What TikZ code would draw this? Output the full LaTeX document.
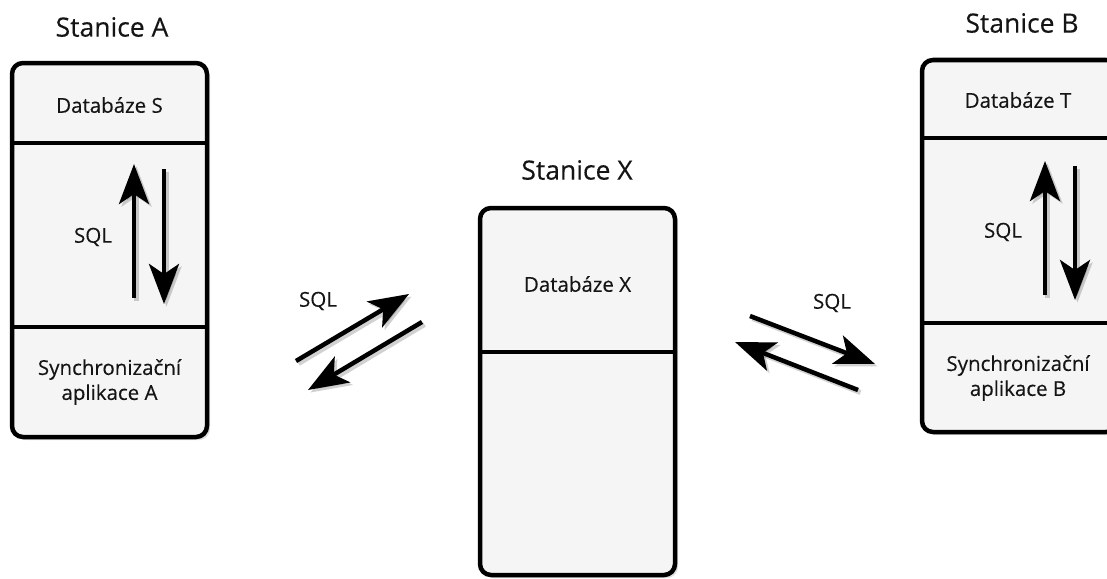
\documentclass[tikz,border=0pt]{standalone}
\usepackage{fontspec}
\setmainfont{Open Sans}[FakeBold=0.3]
\usetikzlibrary{arrows.meta,shadows,calc}
\definecolor{boxfill}{HTML}{F5F5F5}
\definecolor{headgray}{HTML}{3A3A3A}
\definecolor{txt}{HTML}{151515}
\tikzset{
  station/.style={draw=black, line width=4.5pt, fill=boxfill, rounded corners=11pt,
    drop shadow={shadow xshift=3pt, shadow yshift=-3pt, opacity=0.25}},
  divider/.style={line width=4.5pt, draw=black},
  title/.style={font=\fontsize{26.5}{31}\selectfont, text=txt},
  label/.style={font=\fontsize{20.5}{25}\selectfont, text=txt, align=center},
  tip/.style={-{Stealth[length=40pt,width=30pt,inset=10pt]}},
  sqlarrow/.style={line width=4.5pt, tip},
  darkhead/.style={sqlarrow, draw=black, fill=headgray},
  blackhead/.style={sqlarrow, draw=black, fill=black},
  ashadow/.style={line width=5pt, draw=black, opacity=0.18, tip, transform canvas={xshift=2.5pt,yshift=-2.5pt}}
}
\begin{document}
\begin{tikzpicture}[x=1pt,y=-1pt]
\useasboundingbox (0,0) rectangle (1107,578);

% Station A
\node[title] (tA) at (112,27) {Stanice A};
\node[station, minimum width=195pt, minimum height=374pt] (boxA) at (109.5,250) {};
\coordinate (a1) at (12,143); \coordinate (a2) at (207,143);
\coordinate (a3) at (12,327); \coordinate (a4) at (207,327);
\draw[divider] (a1) -- (a2);
\draw[divider] (a3) -- (a4);
\node[label] (dbS) at (109.5,105) {Databáze S};
\node[label] (sqlA) at (93,237) {SQL};
\node[label] (syncA) at (109.5,382) {Synchronizační\\aplikace A};
\coordinate (au1) at (134,298); \coordinate (au2) at (134,164);
\coordinate (ad1) at (164,169); \coordinate (ad2) at (164,304);
\draw[ashadow] (au1) -- (au2);
\draw[ashadow] (ad1) -- (ad2);
\draw[darkhead] (au1) -- (au2);
\draw[blackhead] (ad1) -- (ad2);

% Station X
\node[title] (tX) at (577,170) {Stanice X};
\node[station, minimum width=195pt, minimum height=367pt] (boxX) at (577.5,391.5) {};
\coordinate (x1) at (480,352); \coordinate (x2) at (675,352);
\draw[divider] (x1) -- (x2);
\node[label] (dbX) at (577.5,284) {Databáze X};

% Station B
\node[title] (tB) at (1022,23) {Stanice B};
\node[station, minimum width=195pt, minimum height=372pt] (boxB) at (1019.5,246) {};
\coordinate (b1) at (922,138); \coordinate (b2) at (1117,138);
\coordinate (b3) at (922,323); \coordinate (b4) at (1117,323);
\draw[divider] (b1) -- (b2);
\draw[divider] (b3) -- (b4);
\node[label] (dbT) at (1018,100) {Databáze T};
\node[label] (sqlB) at (1003,232) {SQL};
\node[label] (syncB) at (1018,378) {Synchronizační\\aplikace B};
\coordinate (bu1) at (1045,295); \coordinate (bu2) at (1045,161);
\coordinate (bd1) at (1075,166); \coordinate (bd2) at (1075,300);
\draw[ashadow] (bu1) -- (bu2);
\draw[ashadow] (bd1) -- (bd2);
\draw[darkhead] (bu1) -- (bu2);
\draw[blackhead] (bd1) -- (bd2);

% Left link A <-> X
\node[label] (sqlL) at (318,301) {SQL};
\coordinate (l1) at (296,361); \coordinate (l2) at (409,294);
\coordinate (l3) at (422,322); \coordinate (l4) at (308,390);
\draw[ashadow] (l1) -- (l2);
\draw[ashadow] (l3) -- (l4);
\draw[darkhead] (l1) -- (l2);
\draw[blackhead] (l3) -- (l4);

% Right link X <-> B
\node[label] (sqlR) at (832,303) {SQL};
\coordinate (r1) at (750,316); \coordinate (r2) at (875,364);
\coordinate (r3) at (858,390); \coordinate (r4) at (735,342);
\draw[ashadow] (r1) -- (r2);
\draw[ashadow] (r3) -- (r4);
\draw[blackhead] (r1) -- (r2);
\draw[darkhead] (r3) -- (r4);
\end{tikzpicture}
\end{document}
